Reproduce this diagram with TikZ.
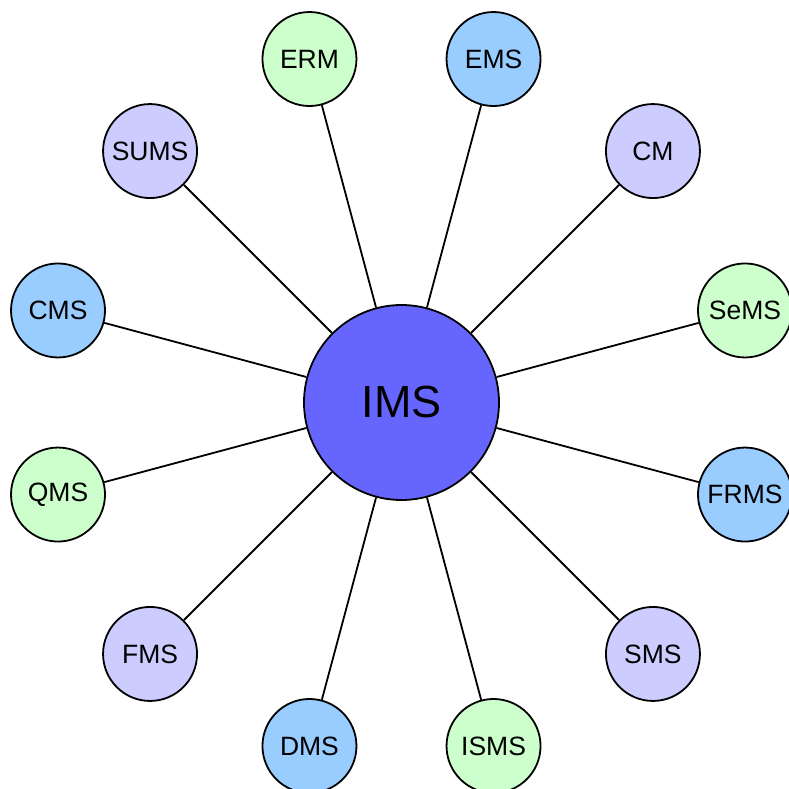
\documentclass[tikz,border=0pt]{standalone}
\usepackage{fontspec}
\setmainfont{Liberation Sans}
\definecolor{cgreen}{HTML}{CCFFCC}
\definecolor{cblue}{HTML}{99CCFF}
\definecolor{clav}{HTML}{CCCCFF}
\definecolor{ccenter}{HTML}{6666FF}
\tikzset{
  outer/.style={circle, draw=black, line width=1.8pt, minimum size=94pt, inner sep=0pt, font=\fontsize{26.5}{30}\selectfont},
  hub/.style={circle, draw=black, line width=1.8pt, fill=ccenter, minimum size=195pt, inner sep=0pt, font=\fontsize{45}{50}\selectfont},
  link/.style={line width=1.8pt}
}
\begin{document}
\begin{tikzpicture}[x=1pt,y=1pt]
\useasboundingbox (0,0) rectangle (788,-789);
\node[hub] (ims) at (401.5,-402.5) {IMS};
\begin{scope}[shift={(401.5,-402.5)}]
\node[outer, fill=cgreen] (erm) at (105:355.6) {ERM};
\node[outer, fill=cblue] (ems) at (75:355.6) {EMS};
\node[outer, fill=clav] (cm) at (45:355.6) {CM};
\node[outer, fill=cgreen] (sems) at (15:355.6) {SeMS};
\node[outer, fill=cblue] (frms) at (-15:355.6) {FRMS};
\node[outer, fill=clav] (sms) at (-45:355.6) {SMS};
\node[outer, fill=cgreen] (isms) at (-75:355.6) {ISMS};
\node[outer, fill=cblue] (dms) at (-105:355.6) {DMS};
\node[outer, fill=clav] (fms) at (-135:355.6) {FMS};
\node[outer, fill=cgreen] (qms) at (-165:355.6) {QMS};
\node[outer, fill=cblue] (cms) at (165:355.6) {CMS};
\node[outer, fill=clav] (sums) at (135:355.6) {SUMS};
\end{scope}
\foreach \n in {erm,ems,cm,sems,frms,sms,isms,dms,fms,qms,cms,sums}
  \draw[link] (ims) -- (\n);
\end{tikzpicture}
\end{document}
